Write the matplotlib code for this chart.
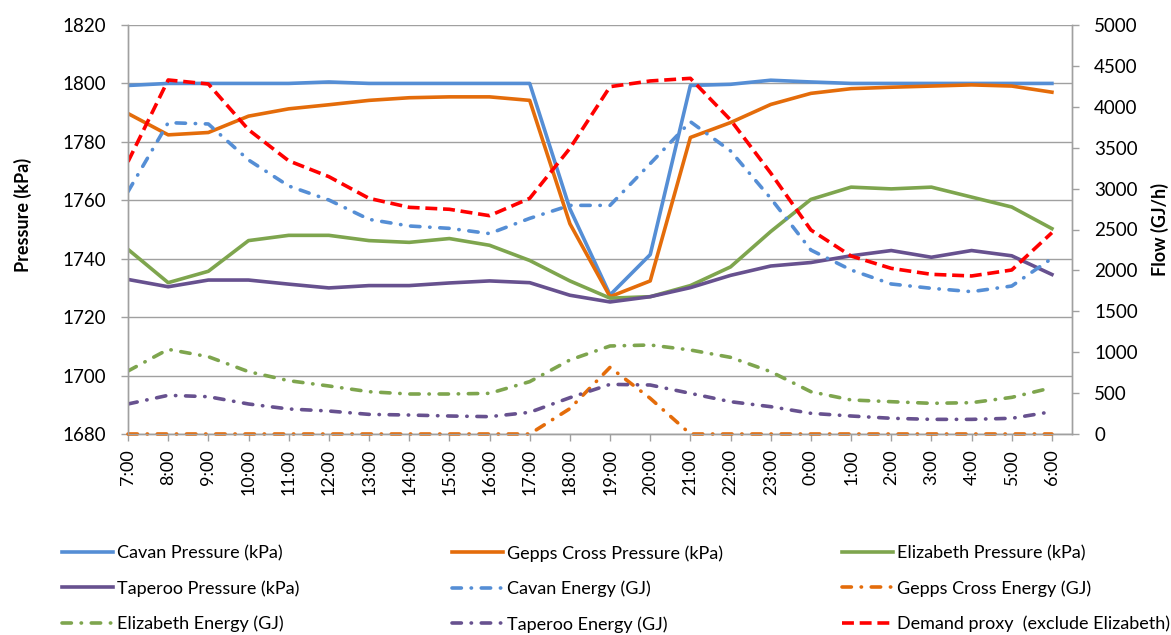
# pressure and energy flow by hour across the network, pressure on the left axis, flow on the right
import matplotlib.pyplot as plt

plt.rcParams['font.family'] = ['Lato', 'DejaVu Sans']

hours = ['7:00', '8:00', '9:00', '10:00', '11:00', '12:00', '13:00', '14:00',
         '15:00', '16:00', '17:00', '18:00', '19:00', '20:00', '21:00', '22:00',
         '23:00', '0:00', '1:00', '2:00', '3:00', '4:00', '5:00', '6:00']

# pressures (kPa)
cavan_p = [1799.3, 1800, 1800, 1800, 1800, 1800.5, 1800, 1800, 1800, 1800, 1800, 1757.1,
           1727.6, 1741.4, 1799.3, 1799.7, 1801.1, 1800.5, 1800, 1800, 1800, 1800, 1800, 1800]
gepps_p = [1789.7, 1782.4, 1783.2, 1788.8, 1791.3, 1792.7, 1794.2, 1795.1, 1795.4, 1795.4,
           1794.2, 1752.0, 1727.0, 1732.4, 1781.5, 1786.6, 1792.8, 1796.6, 1798.2, 1798.7,
           1799.1, 1799.5, 1799.1, 1797.0]
eliz_p = [1743.2, 1731.8, 1735.7, 1746.2, 1748.0, 1748.0, 1746.2, 1745.6, 1746.9, 1744.6,
          1739.4, 1732.4, 1726.5, 1727.0, 1730.8, 1737.2, 1749.3, 1760.3, 1764.5, 1763.9,
          1764.5, 1761.1, 1757.7, 1750.3]
tap_p = [1732.9, 1730.4, 1732.7, 1732.7, 1731.3, 1730.0, 1730.8, 1730.8, 1731.7, 1732.4,
         1731.8, 1727.5, 1725.2, 1727.0, 1730.1, 1734.3, 1737.5, 1738.7, 1741.0, 1742.8,
         1740.5, 1742.8, 1741.0, 1734.6]

# energy / flow (GJ/h)
cavan_e = [2963, 3806, 3790, 3350, 3032, 2861, 2624, 2543, 2514, 2450, 2636, 2795,
           2795, 3305, 3818, 3460, 2881, 2249, 2005, 1834, 1781, 1740, 1809, 2147]
gepps_e = [0, 0, 0, 0, 0, 0, 0, 0, 0, 0, 0, 310,
           815, 436, 0, 0, 0, 0, 0, 0, 0, 0, 0, 0]
eliz_e = [770, 1035, 945, 762, 652, 587, 517, 489, 489, 497, 640, 905,
          1076, 1088, 1027, 937, 762, 517, 416, 395, 375, 383, 448, 566]
tap_e = [367, 473, 456, 367, 306, 281, 240, 232, 220, 212, 265, 444,
         607, 599, 497, 395, 334, 253, 220, 192, 179, 179, 192, 273]
demand = [3329, 4328, 4279, 3720, 3340, 3146, 2881, 2771, 2747, 2669, 2881, 3492,
          4246, 4316, 4348, 3839, 3190, 2494, 2176, 2025, 1952, 1932, 2005, 2461]

blue = '#558ED5'
orange = '#E46C0A'
green = '#7EA54E'
purple = '#67518F'
red = '#FF0000'
grey = '#A0A0A0'

lw = 2.6
dashdot = (0, (2.6, 2.7, 0.1, 2.7))
dashed = (0, (3.3, 1.6))

W, H = 1171, 635
fig = plt.figure(figsize=(W / 100, H / 100), dpi=100)
ax = fig.add_axes([128 / W, 1 - 434 / H, (1072 - 128) / W, (434 - 25) / H])
ax2 = ax.twinx()

x = list(range(len(hours)))

l1, = ax.plot(x, cavan_p, color=blue, lw=lw, label='Cavan Pressure (kPa)')
l2, = ax.plot(x, gepps_p, color=orange, lw=lw, label='Gepps Cross Pressure (kPa)')
l3, = ax.plot(x, eliz_p, color=green, lw=lw, label='Elizabeth Pressure (kPa)')
l4, = ax.plot(x, tap_p, color=purple, lw=lw, label='Taperoo Pressure (kPa)')

l5, = ax2.plot(x, cavan_e, color=blue, lw=lw, ls=dashdot, dash_capstyle='round',
               label='Cavan Energy (GJ)')
l6, = ax2.plot(x, gepps_e, color=orange, lw=lw, ls=dashdot, dash_capstyle='round',
               label='Gepps Cross Energy (GJ)', clip_on=False)
l7, = ax2.plot(x, eliz_e, color=green, lw=lw, ls=dashdot, dash_capstyle='round',
               label='Elizabeth Energy (GJ)')
l8, = ax2.plot(x, tap_e, color=purple, lw=lw, ls=dashdot, dash_capstyle='round',
               label='Taperoo Energy (GJ)')
l9, = ax2.plot(x, demand, color=red, lw=lw, ls=dashed,
               label='Demand proxy  (exclude Elizabeth)')

ax.set_xlim(0, 23.5)
ax.set_ylim(1680, 1820)
ax.set_yticks(range(1680, 1821, 20))
ax2.set_ylim(0, 5000)
ax2.set_yticks(range(0, 5001, 500))

ax.set_xticks(x)
ax.set_xticklabels(hours, rotation=90)

ax.grid(axis='y', color=grey, lw=1.0)
ax.set_axisbelow(True)

for a in (ax, ax2):
    a.spines['top'].set_visible(False)
    for s in ('left', 'right', 'bottom'):
        a.spines[s].set_color(grey)
        a.spines[s].set_linewidth(1.0)
ax.tick_params(axis='y', length=5, width=1.0, color=grey, pad=11, labelsize=13.5)
ax2.tick_params(axis='y', length=5, width=1.0, color=grey, pad=11, labelsize=13.5)
ax.tick_params(axis='x', length=5, width=1.0, color=grey, pad=6, labelsize=13)

ax.set_ylabel('Pressure (kPa)', fontsize=13, fontweight='bold')
ax.yaxis.set_label_coords(-0.102, 0.535)
ax2.set_ylabel('Flow (GJ/h)', fontsize=13, fontweight='bold')
ax2.yaxis.set_label_coords(1.084, 0.5)

# three legend columns below the chart
cols = [([l1, l4, l7], 62), ([l2, l5, l8], 452), ([l3, l6, l9], 842)]
for handles, left in cols:
    fig.legend(handles=handles, loc='upper left', bbox_to_anchor=(left / W, 1 - 545 / H),
               frameon=False, fontsize=13, handlelength=2.8, handletextpad=0.25,
               labelspacing=1.05, borderpad=0, borderaxespad=0)

fig.savefig('out.png', dpi=100)
